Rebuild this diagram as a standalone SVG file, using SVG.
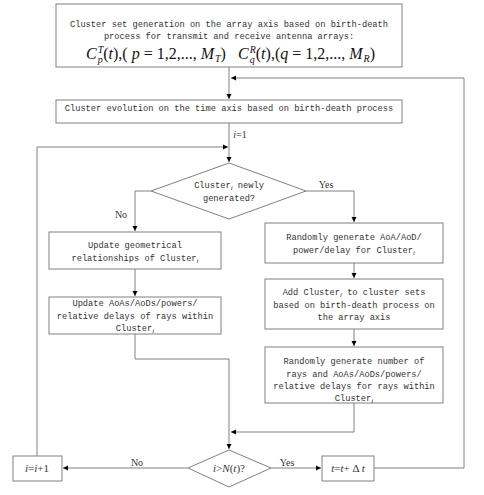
<svg xmlns="http://www.w3.org/2000/svg" width="484" height="495" viewBox="0 0 484 495">
<style>
.box{fill:#fff;stroke:#808080;stroke-width:1}
.ln{fill:none;stroke:#808080;stroke-width:1}
.t{font-family:"Liberation Mono",monospace;font-size:8.7px;fill:#333;text-anchor:middle}
.math{font-family:"Liberation Serif",serif;font-size:16px;fill:#111}
.m{font-style:italic}
.n{font-style:normal}
.ms{font-style:italic;font-size:10px}
.sub{font-family:"Liberation Serif",serif;font-style:italic;font-size:7px}
.lab{font-family:"Liberation Serif",serif;font-size:10px;fill:#333;text-anchor:middle}
</style>
<defs>
<marker id="ar" markerWidth="6" markerHeight="6" refX="5" refY="3" orient="auto" markerUnits="userSpaceOnUse">
<path d="M0,0.5 L5,3 L0,5.5 Z" fill="#000"/>
</marker>
</defs>
<rect width="484" height="495" fill="#fff"/>
<g id="connectors">
<path class="ln" d="M229,67 V99" marker-end="url(#ar)"/>
<path class="ln" d="M464,468 V78 H231" marker-end="url(#ar)"/>
<path class="ln" d="M229,123 V162" marker-end="url(#ar)"/>
<path class="ln" d="M37,456 V147 H228" marker-end="url(#ar)"/>
<path class="ln" d="M306,191 H354 V222" marker-end="url(#ar)"/>
<path class="ln" d="M151,191 H135 V231" marker-end="url(#ar)"/>
<path class="ln" d="M135,269 V296" marker-end="url(#ar)"/>
<path class="ln" d="M354,263 V278" marker-end="url(#ar)"/>
<path class="ln" d="M354,329 V346" marker-end="url(#ar)"/>
<path class="ln" d="M135,334 V359 H229 V449" marker-end="url(#ar)"/>
<path class="ln" d="M354,403 V432 H231" marker-end="url(#ar)"/>
<path class="ln" d="M188,468 H63" marker-end="url(#ar)"/>
<path class="ln" d="M271,468 H321" marker-end="url(#ar)"/>
<path class="ln" d="M374,468 H464"/>
<text class="lab" x="240" y="138"><tspan font-style="italic">i</tspan>=1</text>
<text class="lab" x="326" y="188">Yes</text>
<text class="lab" x="121" y="218">No</text>
<text class="lab" x="137" y="466">No</text>
<text class="lab" x="287" y="466">Yes</text>
</g>
<g id="n1">
<rect class="box" x="56" y="4" width="346" height="63"/>
<text class="t" x="229" y="27">Cluster set generation on the array axis based on birth-death</text>
<text class="t" x="229" y="39">process for transmit and receive antenna arrays:</text>
<text class="math" x="86" y="59"><tspan class="m">C</tspan><tspan class="ms" dy="4" dx="1">p</tspan><tspan class="ms" dy="-10" dx="-5">T</tspan><tspan class="n" dy="6" dx="0">(</tspan><tspan class="m">t</tspan><tspan class="n">),( </tspan><tspan class="m">p</tspan><tspan class="n"> = 1,2,..., </tspan><tspan class="m">M</tspan><tspan class="ms" dy="3" dx="1">T</tspan><tspan class="n" dy="-3">)</tspan></text>
<text class="math" x="238" y="59"><tspan class="m">C</tspan><tspan class="ms" dy="4" dx="1">q</tspan><tspan class="ms" dy="-10" dx="-5">R</tspan><tspan class="n" dy="6" dx="0">(</tspan><tspan class="m">t</tspan><tspan class="n">),(</tspan><tspan class="m">q</tspan><tspan class="n"> = 1,2,..., </tspan><tspan class="m">M</tspan><tspan class="ms" dy="3" dx="1">R</tspan><tspan class="n" dy="-3">)</tspan></text>
</g>
<g id="n2">
<rect class="box" x="56" y="100" width="346" height="23"/>
<text class="t" x="229" y="111">Cluster evolution on the time axis based on birth-death process</text>
</g>
<g id="d1">
<polygon class="box" points="229,163 306,191 229,219 151,191"/>
<text class="t" x="229" y="188">Cluster<tspan class="sub" dy="2">i</tspan><tspan dy="-2"> newly</tspan></text>
<text class="t" x="229" y="201">generated?</text>
</g>
<g id="l1">
<rect class="box" x="49" y="232" width="172" height="37"/>
<text class="t" x="135" y="248">Update geometrical</text>
<text class="t" x="135" y="261">relationships of Cluster<tspan class="sub" dy="2">i</tspan></text>
</g>
<g id="l2">
<rect class="box" x="49" y="297" width="172" height="37"/>
<text class="t" x="135" y="306">Update AoAs/AoDs/powers/</text>
<text class="t" x="135" y="319">relative delays of rays within</text>
<text class="t" x="135" y="331">Cluster<tspan class="sub" dy="2">i</tspan></text>
</g>
<g id="r1">
<rect class="box" x="265" y="223" width="178" height="40"/>
<text class="t" x="354" y="240">Randomly generate AoA/AoD/</text>
<text class="t" x="354" y="253">power/delay for Cluster<tspan class="sub" dy="2">i</tspan></text>
</g>
<g id="r2">
<rect class="box" x="265" y="279" width="178" height="50"/>
<text class="t" x="354" y="295">Add Cluster<tspan class="sub" dy="2">i</tspan><tspan dy="-2"> to cluster sets</tspan></text>
<text class="t" x="354" y="308">based on birth-death process on</text>
<text class="t" x="354" y="320">the array axis</text>
</g>
<g id="r3">
<rect class="box" x="265" y="347" width="178" height="56"/>
<text class="t" x="354" y="364">Randomly generate number of</text>
<text class="t" x="354" y="377">rays and AoAs/AoDs/powers/</text>
<text class="t" x="354" y="389">relative delays for rays within</text>
<text class="t" x="354" y="401">Cluster<tspan class="sub" dy="2">i</tspan></text>
</g>
<g id="d2">
<polygon class="box" points="229,450 271,468 229,487 188,468"/>
<text x="229" y="472" font-family="Liberation Serif,serif" font-size="11" fill="#333" text-anchor="middle"><tspan font-style="italic">i</tspan>&gt;<tspan font-style="italic">N</tspan>(<tspan font-style="italic">t</tspan>)?</text>
</g>
<g id="inc">
<rect class="box" x="13" y="456" width="49" height="25"/>
<text x="37" y="472" font-family="Liberation Serif,serif" font-size="11" fill="#333" text-anchor="middle"><tspan font-style="italic">i</tspan>=<tspan font-style="italic">i</tspan>+1</text>
</g>
<g id="tinc">
<rect class="box" x="322" y="456" width="52" height="25"/>
<text x="348" y="472" font-family="Liberation Serif,serif" font-size="11" fill="#333" text-anchor="middle"><tspan font-style="italic">t</tspan>=<tspan font-style="italic">t</tspan>+ Δ <tspan font-style="italic">t</tspan></text>
</g>
</svg>
